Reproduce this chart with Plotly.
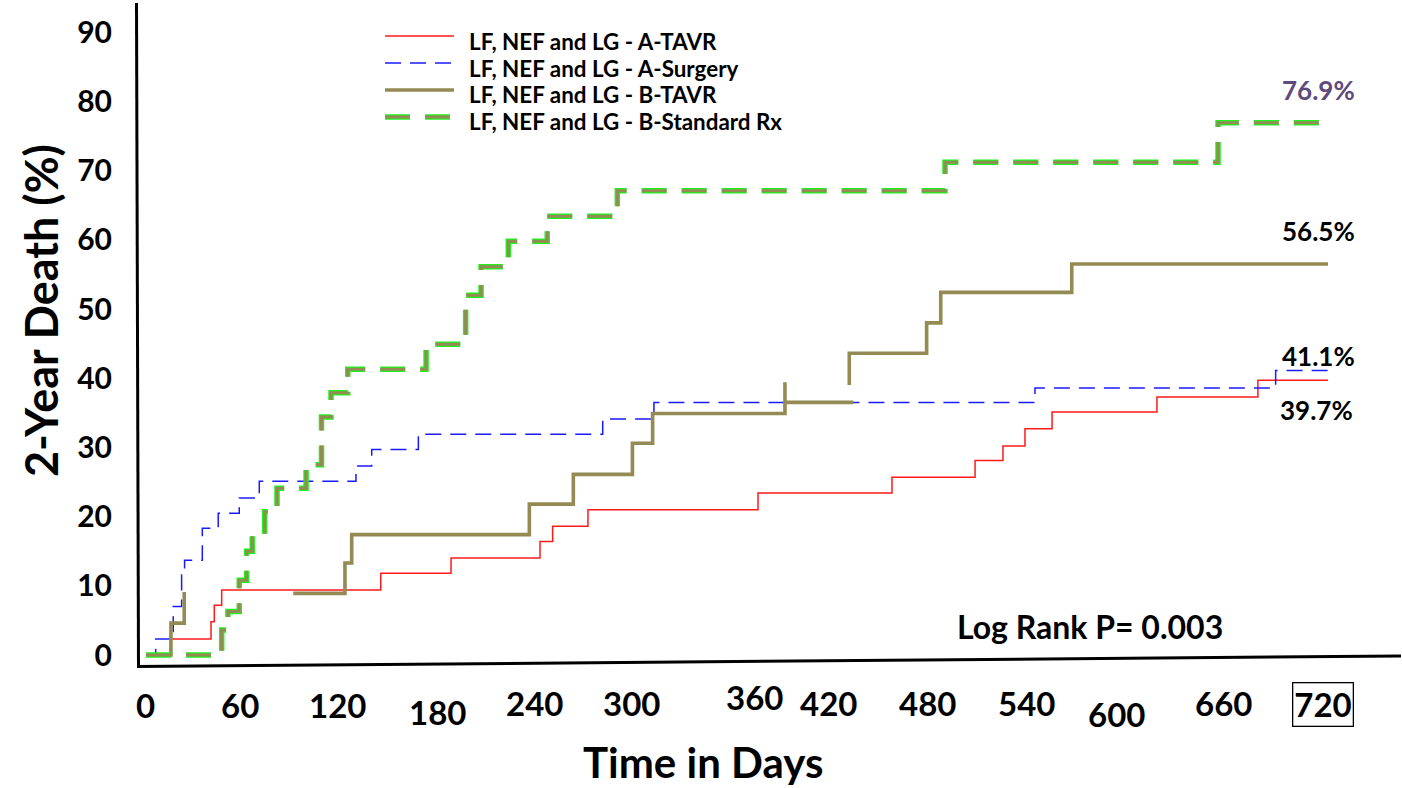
import plotly.graph_objects as go

# ---- Kaplan-Meier step data (days, cumulative death %) ----
# None entries mark breaks in a drawn curve
a_tavr_days = [0, 14.9, 39.6, 41.6, 46.1, 143.0, 185.8, 240.0, 247.7, 269.2,
               372.8, 454.4, 505.0, 522.0, 535.4, 551.9, 615.8, 677.3, 720]
a_tavr_pct = [0, 2.3, 4.8, 7.2, 9.4, 11.8, 14.0, 16.4, 18.6, 21.0,
              23.4, 25.7, 28.1, 30.2, 32.7, 35.1, 37.3, 39.7, 39.7]

a_surgery_days = [0, 5.9, 16.6, 21.7, 23.5, 34.3, 44.0, 56.8, 69.0, 127.9,
                  137.5, 165.9, 278.2, 309.4, 541.5, 688.1, 720]
a_surgery_pct = [0, 2.3, 7.0, 11.6, 13.7, 18.3, 20.5, 22.7, 25.1, 27.3,
                 29.7, 31.9, 34.1, 36.5, 38.6, 41.1, 41.1]

b_tavr_days = [0, 15.2, 23.3, None, 89.7, 121.2, 125.3, 233.5, 260.3, 296.3,
               308.6, 389.2, 389.2, 430.8, None, 428.4, 428.4, 475.5, 484.1,
               563.9, 720]
b_tavr_pct = [0, 4.6, 9.1, None, 8.9, 13.3, 17.4, 21.8, 26.1, 30.6,
              34.9, 39.4, 36.5, 36.5, None, 39.0, 43.6, 48.0, 52.4,
              56.5, 56.5]

b_std_days = [0, 46.1, 49.9, 56.8, 61.3, 64.7, 72.3, 79.8, 97.5, 106.9,
              112.7, 122.9, 170.6, 194.7, 204.1, 220.7, 244.4, 287.1,
              486.7, 653.0, 720]
b_std_pct = [0, 3.6, 6.3, 10.8, 15.0, 17.3, 20.7, 24.1, 27.5, 34.4,
             37.9, 41.3, 44.9, 52.0, 56.1, 59.8, 63.4, 67.1,
             71.2, 76.9, 76.9]

series_names = ["LF, NEF and LG - A-TAVR", "LF, NEF and LG - A-Surgery",
                "LF, NEF and LG - B-TAVR", "LF, NEF and LG - B-Standard Rx"]

end_labels = ["39.7%", "41.1%", "56.5%", "76.9%"]

x_ticks = [0, 60, 120, 180, 240, 300, 360, 420, 480, 540, 600, 660, 720]
y_ticks = [0, 10, 20, 30, 40, 50, 60, 70, 80, 90]

# ---- canvas geometry ----
W, H = 1402, 788
L, R, T, B = 136, 0, 0, 88
PW, PH = W - L - R, H - T - B
X0_PX, PX_PER_DAY = 146.0, 1.6417
Y0_PX, PX_PER_PCT = 655.0, 6.92


def px_x(px):
    return (px - L) / PW


def px_y(py):
    return (H - B - py) / PH


FONT = "Lato"
OLIVE = "#948A54"
GREEN = "#1FF01F"
PURPLE = "#604A7B"

fig = go.Figure()

fig.add_trace(go.Scatter(x=a_tavr_days, y=a_tavr_pct, mode="lines",
                         line=dict(color="#FF1A1A", width=1.5, shape="hv"),
                         name=series_names[0], showlegend=False))
fig.add_trace(go.Scatter(x=a_surgery_days, y=a_surgery_pct, mode="lines",
                         line=dict(color="#1A1AFF", width=1.5, shape="hv",
                                   dash="16px,9px"),
                         name=series_names[1], showlegend=False))
fig.add_trace(go.Scatter(x=b_tavr_days, y=b_tavr_pct, mode="lines",
                         connectgaps=False,
                         line=dict(color=OLIVE, width=3.6, shape="hv"),
                         name=series_names[2], showlegend=False))
# green-edged olive dashes: wide green stroke under a narrower olive stroke
fig.add_trace(go.Scatter(x=b_std_days, y=b_std_pct, mode="lines",
                         line=dict(color=GREEN, width=5.5, shape="hv",
                                   dash="25px,15px"),
                         name=series_names[3], showlegend=False,
                         hoverinfo="skip"))
fig.add_trace(go.Scatter(x=b_std_days, y=b_std_pct, mode="lines",
                         line=dict(color=OLIVE, width=3, shape="hv",
                                   dash="25px,15px"),
                         name=series_names[3], showlegend=False))

shapes = []
annotations = []

# axis lines
shapes.append(dict(type="line", xref="paper", yref="paper",
                   x0=px_x(136.5), y0=px_y(3), x1=px_x(138.5), y1=px_y(666),
                   line=dict(color="black", width=3)))
shapes.append(dict(type="line", xref="paper", yref="paper",
                   x0=px_x(137), y0=px_y(666.5), x1=px_x(1401), y1=px_y(656),
                   line=dict(color="black", width=3)))

# x tick labels (hand-placed, staggered)
tick_xshift = [-1, -4.5, -5.5, -4.5, -5.5, -7, 17.5, -7.5, -7, -6, -14.5, -6, -5]
tick_ypx = [705, 705, 705, 712, 703, 703, 697, 703, 703, 703, 714, 703, 704]
for v, dx, ypx in zip(x_ticks, tick_xshift, tick_ypx):
    boxed = v == x_ticks[-1]
    annotations.append(dict(
        x=v, xref="x", y=px_y(ypx), yref="paper", text=str(v),
        showarrow=False, xanchor="center", yanchor="middle", xshift=dx,
        font=dict(family=FONT, size=33, color="black", weight="bold"),
        bordercolor="black" if boxed else None,
        borderwidth=1.3 if boxed else 0, borderpad=1))

# axis titles
annotations.append(dict(x=px_x(703), y=px_y(762.5), xref="paper", yref="paper",
                        text="Time in Days", showarrow=False, borderpad=0,
                        xanchor="center", yanchor="middle",
                        font=dict(family=FONT, size=42, color="black",
                                  weight="bold")))
annotations.append(dict(x=px_x(41), y=px_y(310), xref="paper", yref="paper",
                        text="2-Year Death (%)", showarrow=False,
                        textangle=-90, xanchor="center", yanchor="middle",
                        font=dict(family=FONT, size=45, color="black",
                                  weight="bold")))

# end-of-curve labels
end_label_pos = [(1316, 410, "black"), (1318, 356, "black"),
                 (1318, 231, "black"), (1318, 90, PURPLE)]
for txt, (xp, yp, col) in zip(end_labels, end_label_pos):
    annotations.append(dict(x=px_x(xp), y=px_y(yp), xref="paper", yref="paper",
                            text=txt, showarrow=False, xanchor="center",
                            yanchor="middle",
                            font=dict(family=FONT, size=26, color=col,
                                      weight="bold")))

annotations.append(dict(x=px_x(1090), y=px_y(626), xref="paper", yref="paper",
                        text="Log Rank P= 0.003", showarrow=False,
                        xanchor="center", yanchor="middle",
                        font=dict(family=FONT, size=32, color="black",
                                  weight="bold")))

# legend
legend_line_y = [36, 63, 90, 117]
legend_text_y = [41, 68, 95, 122]
legend_styles = [
    [dict(color="#FF1A1A", width=1.5, dash="solid")],
    [dict(color="#1A1AFF", width=1.5, dash="16px,9px")],
    [dict(color=OLIVE, width=3.6, dash="solid")],
    [dict(color=GREEN, width=5.5, dash="25px,15px"),
     dict(color=OLIVE, width=3, dash="25px,15px")],
]
for name, ly, ty, styles in zip(series_names, legend_line_y, legend_text_y,
                                legend_styles):
    for st in styles:
        shapes.append(dict(type="line", xref="paper", yref="paper",
                           x0=px_x(385), x1=px_x(454), y0=px_y(ly), y1=px_y(ly),
                           line=st))
    annotations.append(dict(x=px_x(468), y=px_y(ty), xref="paper", yref="paper",
                            text=name, showarrow=False, xanchor="left",
                            yanchor="middle", borderpad=0,
                            font=dict(family=FONT, size=22.4, color="black",
                                      weight="bold")))

x_range = [(L - X0_PX) / PX_PER_DAY, (W - R - X0_PX) / PX_PER_DAY]
y_range = [(Y0_PX - (H - B)) / PX_PER_PCT, (Y0_PX - T) / PX_PER_PCT]

fig.update_layout(
    width=W, height=H,
    margin=dict(l=L, r=R, t=T, b=B, pad=0),
    paper_bgcolor="white", plot_bgcolor="white",
    xaxis=dict(range=x_range, showgrid=False, zeroline=False, showline=False,
               showticklabels=False, ticks=""),
    yaxis=dict(range=y_range, showgrid=False, zeroline=False, showline=False,
               tickmode="array", tickvals=y_ticks,
               ticks="outside", ticklen=17, tickcolor="rgba(0,0,0,0)",
               tickfont=dict(family=FONT, size=30, color="black",
                             weight="bold")),
    shapes=shapes,
    annotations=annotations,
    showlegend=False,
)

fig.write_html("out.html")
